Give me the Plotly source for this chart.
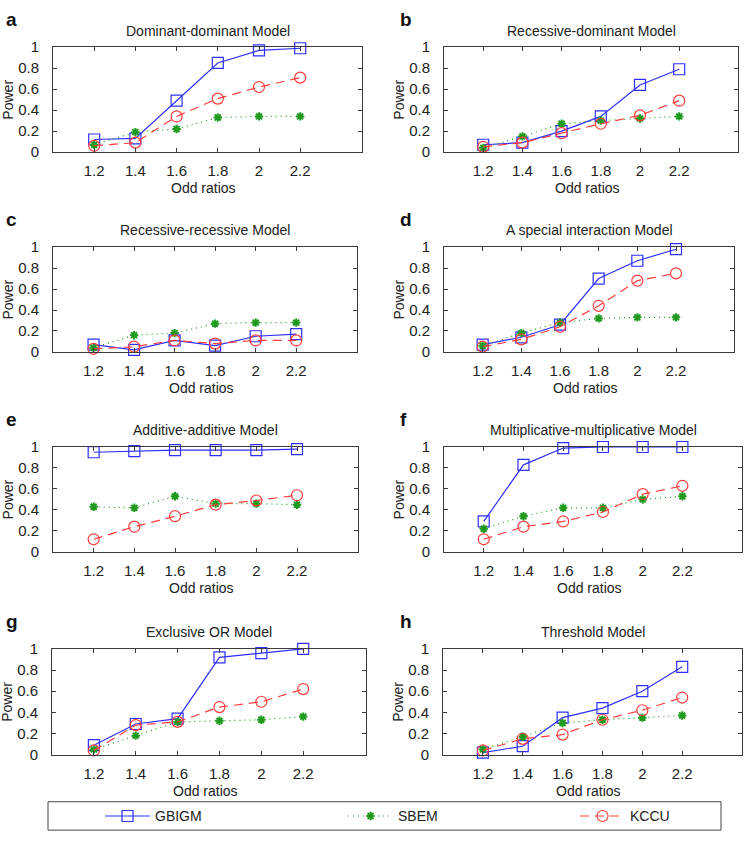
import plotly.graph_objects as go

# ---------------- data ----------------
odd_ratios = [1.2, 1.4, 1.6, 1.8, 2.0, 2.2]
odd_ratio_labels = ["1.2", "1.4", "1.6", "1.8", "2", "2.2"]
power_ticks = [0, 0.2, 0.4, 0.6, 0.8, 1]
power_labels = ["0", "0.2", "0.4", "0.6", "0.8", "1"]

panel_letters = ["a", "b", "c", "d", "e", "f", "g", "h"]
panel_titles = [
    "Dominant-dominant Model",
    "Recessive-dominant Model",
    "Recessive-recessive Model",
    "A special interaction Model",
    "Additive-additive Model",
    "Multiplicative-multiplicative Model",
    "Exclusive OR Model",
    "Threshold Model",
]
series_names = ["GBIGM", "SBEM", "KCCU"]

gbigm_a = [0.12, 0.13, 0.49, 0.85, 0.97, 0.99]
sbem_a = [0.07, 0.19, 0.22, 0.33, 0.34, 0.34]
kccu_a = [0.06, 0.09, 0.34, 0.51, 0.62, 0.71]

gbigm_b = [0.07, 0.09, 0.20, 0.34, 0.64, 0.79]
sbem_b = [0.04, 0.15, 0.27, 0.30, 0.32, 0.34]
kccu_b = [0.05, 0.09, 0.18, 0.27, 0.35, 0.49]

gbigm_c = [0.07, 0.02, 0.11, 0.06, 0.15, 0.17]
sbem_c = [0.04, 0.16, 0.18, 0.27, 0.28, 0.28]
kccu_c = [0.03, 0.05, 0.11, 0.08, 0.11, 0.11]

gbigm_d = [0.07, 0.14, 0.26, 0.70, 0.87, 0.98]
sbem_d = [0.06, 0.18, 0.28, 0.32, 0.33, 0.33]
kccu_d = [0.05, 0.12, 0.24, 0.44, 0.68, 0.75]

gbigm_e = [0.95, 0.96, 0.97, 0.97, 0.97, 0.98]
sbem_e = [0.43, 0.42, 0.53, 0.46, 0.46, 0.45]
kccu_e = [0.12, 0.24, 0.34, 0.45, 0.49, 0.54]

gbigm_f = [0.29, 0.83, 0.99, 1.00, 1.00, 1.00]
sbem_f = [0.22, 0.34, 0.42, 0.42, 0.50, 0.53]
kccu_f = [0.12, 0.24, 0.29, 0.38, 0.55, 0.63]

gbigm_g = [0.09, 0.29, 0.34, 0.92, 0.96, 1.00]
sbem_g = [0.05, 0.18, 0.31, 0.32, 0.33, 0.36]
kccu_g = [0.04, 0.28, 0.31, 0.45, 0.50, 0.62]

gbigm_h = [0.02, 0.08, 0.35, 0.44, 0.60, 0.83]
sbem_h = [0.05, 0.17, 0.30, 0.33, 0.35, 0.37]
kccu_h = [0.04, 0.15, 0.19, 0.33, 0.42, 0.54]

gbigm = [gbigm_a, gbigm_b, gbigm_c, gbigm_d, gbigm_e, gbigm_f, gbigm_g, gbigm_h]
sbem = [sbem_a, sbem_b, sbem_c, sbem_d, sbem_e, sbem_f, sbem_g, sbem_h]
kccu = [kccu_a, kccu_b, kccu_c, kccu_d, kccu_e, kccu_f, kccu_g, kccu_h]

# ---------------- layout geometry (pixels) ----------------
W, H = 750, 845
boxes = [
    (53, 39, 362, 146),
    (444, 39, 738, 146),
    (53, 243, 357, 350),
    (444, 243, 734, 350),
    (53, 447, 358, 554),
    (444, 447, 742, 554),
    (52, 653, 366, 761),
    (443, 653, 742, 761),
]

def px(x):
    return x / W

def py(y):
    return 1 - y / H

FONT = "Liberation Sans, Arial, Helvetica, sans-serif"
AXC = "#3a3a3a"
BLUE = "#2f2fff"
GREEN = "#1f9a1f"
RED = "#ff3b3b"

styles = [
    dict(line=dict(color=BLUE, width=1.2, dash="solid"),
         marker=dict(symbol="square-open", size=11, color=BLUE, line=dict(width=1.2, color=BLUE))),
    dict(line=dict(color=GREEN, width=1.2, dash="1px,4px"),
         marker=dict(symbol="asterisk-open", size=7, color=GREEN, line=dict(width=2, color=GREEN))),
    dict(line=dict(color=RED, width=1.2, dash="9px,6px"),
         marker=dict(symbol="circle-open", size=11, color=RED, line=dict(width=1.2, color=RED))),
]
legend_keys = ["legend", "legend2", "legend3"]

fig = go.Figure()
layout = dict(width=W, height=H, autosize=False, margin=dict(l=0, r=0, t=0, b=0),
              paper_bgcolor="white", plot_bgcolor="white",
              font=dict(family=FONT, color="#222222"))
annotations = []

for i in range(8):
    n = i + 1
    xk = "xaxis" if n == 1 else f"xaxis{n}"
    yk = "yaxis" if n == 1 else f"yaxis{n}"
    xr = "x" if n == 1 else f"x{n}"
    yr = "y" if n == 1 else f"y{n}"
    x0, y0, x1, y1 = boxes[i]
    layout[xk] = dict(domain=[px(x0), px(x1)], anchor=yr, range=[1.0, 2.5],
                      tickmode="array", tickvals=odd_ratios, ticktext=odd_ratio_labels,
                      ticks="inside", ticklen=4, tickcolor=AXC, showline=True, linecolor=AXC,
                      linewidth=1, mirror="ticks", showgrid=False, zeroline=False,
                      tickfont=dict(size=15, color="#222222"), ticklabelstandoff=5)
    layout[yk] = dict(domain=[py(y1), py(y0)], anchor=xr, range=[0, 1],
                      tickmode="array", tickvals=power_ticks, ticktext=power_labels,
                      ticks="inside", ticklen=4, tickcolor=AXC, showline=True, linecolor=AXC,
                      linewidth=1, mirror="ticks", showgrid=False, zeroline=False,
                      tickfont=dict(size=15, color="#222222"), ticklabelstandoff=10)
    for s, data in enumerate([gbigm[i], sbem[i], kccu[i]]):
        fig.add_trace(go.Scatter(
            x=odd_ratios, y=data, mode="lines+markers", name=series_names[s],
            xaxis=xr, yaxis=yr, cliponaxis=False,
            showlegend=(i == 0), legend=legend_keys[s], **styles[s]))
    cx = (x0 + x1) / 2
    annotations.append(dict(text=panel_titles[i], x=px(cx), y=py(y0 - 17), xref="paper", yref="paper",
                            showarrow=False, xanchor="center", yanchor="middle",
                            font=dict(size=14, color="#222222")))
    annotations.append(dict(text="Odd ratios", x=px(cx - 4), y=py(y1 + 37), xref="paper", yref="paper",
                            showarrow=False, xanchor="center", yanchor="middle",
                            font=dict(size=14, color="#222222")))
    annotations.append(dict(text="Power", x=px(x0 - 45), y=py((y0 + y1) / 2), xref="paper", yref="paper",
                            showarrow=False, xanchor="center", yanchor="middle", textangle=-90,
                            font=dict(size=14, color="#222222")))
    lx = 4 if i % 2 == 0 else 398
    annotations.append(dict(text=f"<b>{panel_letters[i]}</b>", x=px(lx), y=py(y0 - 28), xref="paper", yref="paper",
                            showarrow=False, xanchor="left", yanchor="middle",
                            font=dict(size=19, color="#111111")))

layout["annotations"] = annotations

leg_x = [100, 343, 575]
for k, key in enumerate(legend_keys):
    layout[key] = dict(x=px(leg_x[k]), y=py(824), xanchor="left", yanchor="middle",
                       orientation="h", bgcolor="rgba(0,0,0,0)", borderwidth=0, itemwidth=45,
                       font=dict(size=14, color="#222222"), itemclick=False, itemdoubleclick=False)

layout["shapes"] = [
    dict(type="rect", xref="paper", yref="paper",
         x0=px(48), x1=px(721), y0=py(838), y1=py(809),
         line=dict(color="#444444", width=1), fillcolor="rgba(0,0,0,0)"),
]

fig.update_layout(**layout)
fig.write_html("out.html", config={"displayModeBar": False})

with open("out.html", "r", encoding="utf-8") as f:
    html = f.read()
css = ("<style>html,body{margin:0!important;padding:0!important;overflow:hidden;}"
       ".plotly-graph-div{position:fixed!important;top:0!important;left:0!important;}</style>")
html = html.replace("<head>", "<head>" + css, 1)
with open("out.html", "w", encoding="utf-8") as f:
    f.write(html)
